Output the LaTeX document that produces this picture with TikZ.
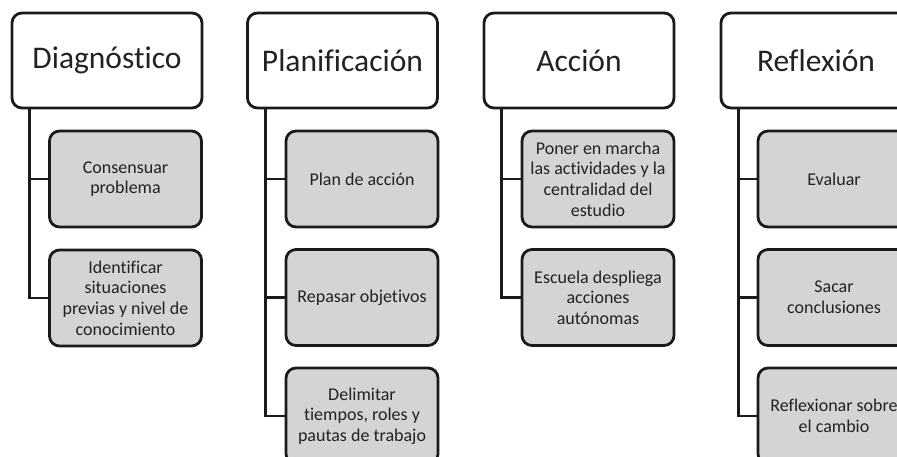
\documentclass[tikz,border=0pt]{standalone}
\usepackage{fontspec}
\setmainfont[Ligatures={NoCommon,NoDiscretionary}]{Carlito}
\definecolor{txt}{RGB}{34,34,34}
\definecolor{boxgray}{RGB}{212,212,212}
\definecolor{edge}{RGB}{26,26,26}
\begin{document}
\begin{tikzpicture}[x=1pt,y=-1pt,
  headbox/.style={draw=edge, line width=2.8pt, rounded corners=10pt, fill=white,
    minimum width=190pt, minimum height=95pt, inner sep=0pt, text=txt,
    font=\fontsize{31.5}{36}\selectfont},
  childbox/.style={draw=edge, line width=2.8pt, rounded corners=10pt, fill=boxgray,
    minimum width=152pt, minimum height=96pt, inner sep=0pt, text=txt, align=center,
    font=\fontsize{18}{20.6}\selectfont},
  link/.style={draw=edge, line width=2.8pt}]
\useasboundingbox (0,0) rectangle (897,457);
\clip (0,0) rectangle (897,457);
\fill[white] (0,0) rectangle (897,457);
% headers
\node[headbox] (h1) at (107,60.5) {Diagnóstico};
\node[headbox] (h2) at (342.5,60.5) {Planificación};
\node[headbox] (h3) at (579,60.5) {Acción};
\node[headbox] (h4) at (816,60.5) {Reflexión};
% children
\node[childbox] (c11) at (125.5,179) {Consensuar\\problema};
\node[childbox] (c12) at (125.5,298) {Identificar\\situaciones\\previas y nivel de\\conocimiento};
\node[childbox] (c21) at (362,179) {Plan de acción};
\node[childbox] (c22) at (362,297.5) {Repasar objetivos};
\node[childbox] (c23) at (362,416) {Delimitar\\tiempos, roles y\\pautas de trabajo};
\node[childbox] (c31) at (598,179) {Poner en marcha\\las actividades y la\\centralidad del\\estudio};
\node[childbox] (c32) at (598,297.5) {Escuela despliega\\acciones\\autónomas};
\node[childbox] (c41) at (834,179) {Evaluar};
\node[childbox] (c42) at (834,297.5) {Sacar\\conclusiones};
\node[childbox] (c43) at (834,416) {Reflexionar sobre\\el cambio};
% connectors
\foreach \h/\c in {h1/c11,h1/c12,h2/c21,h2/c22,h2/c23,h3/c31,h3/c32,h4/c41,h4/c42,h4/c43}
  \draw[link] ([xshift=19pt]\h.south west) |- (\c.west);
\end{tikzpicture}
\end{document}
